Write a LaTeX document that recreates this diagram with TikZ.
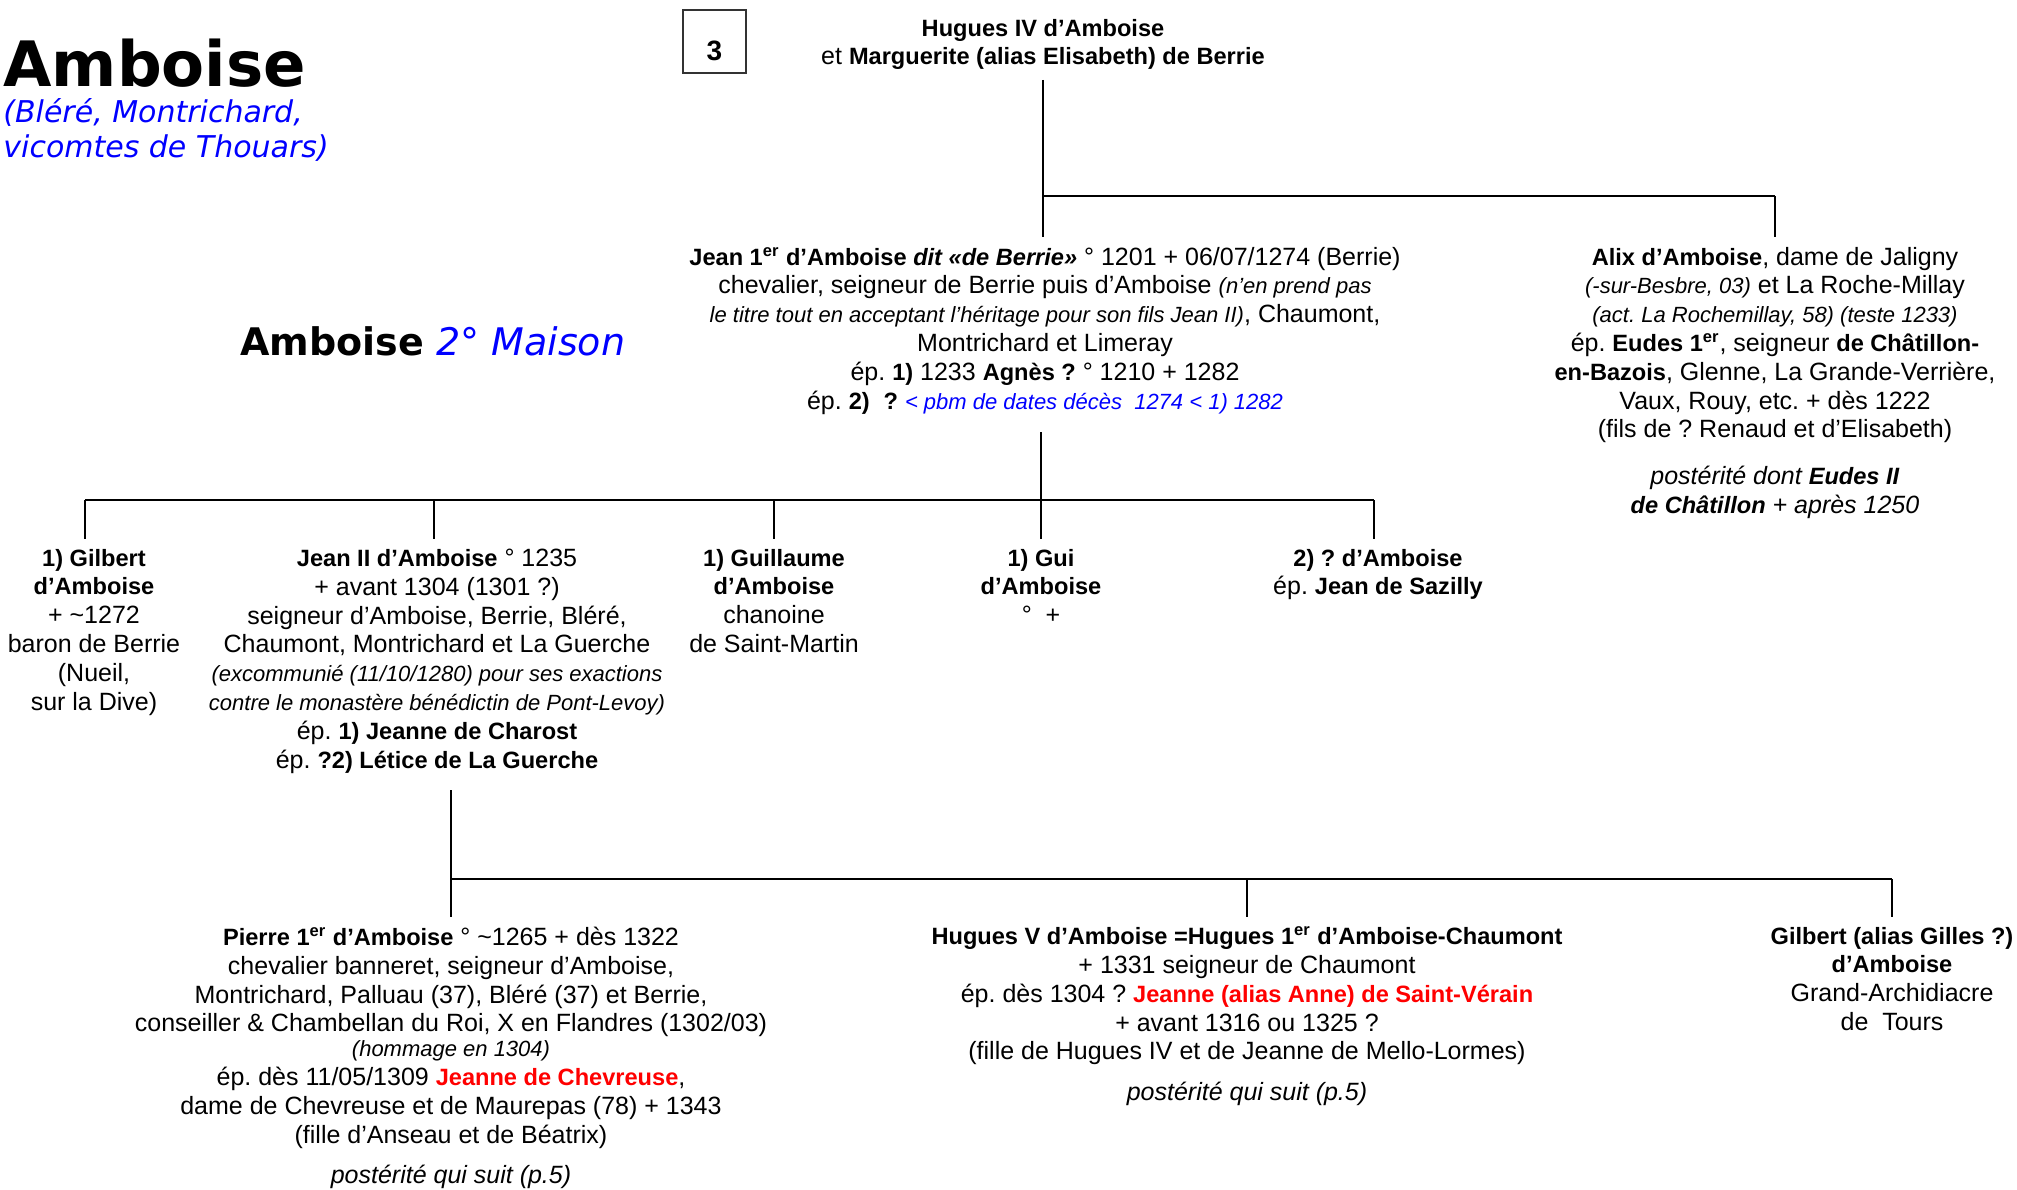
\documentclass[tikz,border=0pt]{standalone}
\usepackage{fontspec}
\setmainfont{Liberation Sans}
\newfontfamily\verdana{DejaVu Sans}
\usepackage{xcolor}
\usepackage{tikz}
\frenchspacing

% noms en gras, remarques en petit italique
\newcommand\nom[1]{{\fontsize{11.8}{14.4}\selectfont\bfseries #1}}
\newcommand\pit[1]{{\fontsize{11}{14.4}\selectfont\itshape #1}}

\begin{document}
\begin{tikzpicture}[x=0.5pt, y=-0.5pt,
  pers/.style={align=center, inner sep=0pt, outer ysep=5pt, anchor=north, font=\fontsize{12.5}{14.4}\selectfont},
  tige/.style={line width=0.8pt},
  barre/.style={line width=1.4pt}]
\useasboundingbox (0,0) rectangle (2017,1189);
% titres
\node[anchor=base west, inner sep=0pt, font=\verdana\bfseries\fontsize{31.3}{36}\selectfont] (titre) at (3,86) {Amboise};
\node[anchor=north west, inner sep=0pt, align=left, text=blue, font=\verdana\itshape\fontsize{15}{17.5}\selectfont] (lieux) at (3,98) {(Bléré, Montrichard,\\vicomtes de Thouars)};
\node[anchor=base west, inner sep=0pt, font=\verdana\fontsize{19}{22}\selectfont] (maison) at (240,355) {\textbf{Amboise} \textcolor{blue}{\itshape 2° Maison}};
\node[draw=black!80, line width=0.6pt, minimum width=31.5pt, minimum height=31.5pt, inner sep=0pt, text height=19pt, font=\fontsize{14}{16}\selectfont\bfseries] (num) at (714.5,41.5) {3};
% generation 1
\node[pers] (hug) at (1043,9) {\nom{Hugues IV d’Amboise}\\et \nom{Marguerite (alias Elisabeth) de Berrie}};
% generation 2
\node[pers] (jean1) at (1045,237) {\nom{Jean 1\textsuperscript{er} d’Amboise \textit{dit «de Berrie»}} ° 1201 + 06/07/1274 (Berrie)\\
  chevalier, seigneur de Berrie puis d’Amboise \pit{(n’en prend pas}\\
  \pit{le titre tout en acceptant l’héritage pour son fils Jean II)}, Chaumont,\\
  Montrichard et Limeray\\
  ép. \nom{1)} 1233 \nom{Agnès ?} ° 1210 + 1282\\
  ép. \nom{2)}\ \ \nom{?} \textcolor{blue}{\pit{< pbm de dates décès\ \ 1274 < 1) 1282}}};
\node[pers] (alix) at (1775,237) {\nom{Alix d’Amboise}, dame de Jaligny\\
  \pit{(-sur-Besbre, 03)} et La Roche-Millay\\
  \pit{(act. La Rochemillay, 58) (teste 1233)}\\
  ép. \nom{Eudes 1\textsuperscript{er}}, seigneur \nom{de Châtillon-}\\
  \nom{en-Bazois}, Glenne, La Grande-Verrière,\\
  Vaux, Rouy, etc. + dès 1222\\
  (fils de ? Renaud et d’Elisabeth)\\[9pt]
  \textit{postérité dont \nom{Eudes II}}\\
  \textit{\nom{de Châtillon} + après 1250}};
% generation 3
\node[pers] (gil) at (94,539) {\nom{1) Gilbert}\\\nom{d’Amboise}\\+ \textasciitilde1272\\baron de Berrie\\(Nueil,\\sur la Dive)};
\node[pers] (jean2) at (437,539) {\nom{Jean II d’Amboise} ° 1235\\
  + avant 1304 (1301 ?)\\
  seigneur d’Amboise, Berrie, Bléré,\\
  Chaumont, Montrichard et La Guerche\\
  \pit{(excommunié (11/10/1280) pour ses exactions}\\
  \pit{contre le monastère bénédictin de Pont-Levoy)}\\
  ép. \nom{1) Jeanne de Charost}\\
  ép. \nom{?2) Létice de La Guerche}};
\node[pers] (guil) at (774,539) {\nom{1) Guillaume}\\\nom{d’Amboise}\\chanoine\\de Saint-Martin};
\node[pers] (gui) at (1041,539) {\nom{1) Gui}\\\nom{d’Amboise}\\°\ \ +};
\node[pers] (saz) at (1378,539) {\nom{2) ? d’Amboise}\\ép. \nom{Jean de Sazilly}};
% generation 4
\node[pers] (pierre) at (451,917) {\nom{Pierre 1\textsuperscript{er} d’Amboise} ° \textasciitilde1265 + dès 1322\\
  chevalier banneret, seigneur d’Amboise,\\
  Montrichard, Palluau (37), Bléré (37) et Berrie,\\
  conseiller \& Chambellan du Roi, X en Flandres (1302/03)\\[-2pt]
  \pit{(hommage en 1304)}\\
  ép. dès 11/05/1309 \textcolor{red}{\nom{Jeanne de Chevreuse}},\\
  dame de Chevreuse et de Maurepas (78) + 1343\\
  (fille d’Anseau et de Béatrix)\\[6pt]
  \textit{postérité qui suit (p.5)}};
\node[pers] (hug5) at (1247,917) {\nom{Hugues V d’Amboise =Hugues 1\textsuperscript{er} d’Amboise-Chaumont}\\
  + 1331 seigneur de Chaumont\\
  ép. dès 1304 ? \textcolor{red}{\nom{Jeanne (alias Anne) de Saint-Vérain}}\\
  + avant 1316 ou 1325 ?\\
  (fille de Hugues IV et de Jeanne de Mello-Lormes)\\[6pt]
  \textit{postérité qui suit (p.5)}};
\node[pers] (gilles) at (1892,917) {\nom{Gilbert (alias Gilles ?)}\\\nom{d’Amboise}\\Grand-Archidiacre\\de\ \ Tours};
% traits
\coordinate (bus1) at (0,196);
\coordinate (bus2) at (0,500);
\coordinate (bus3) at (0,879);
\coordinate (gilc) at ([xshift=-4.5pt]gil.north);
\coordinate (j2c) at ([xshift=-1.5pt]jean2.north);
\coordinate (sazc) at ([xshift=-2pt]saz.north);
\draw[tige] (hug.south) -- (hug.south |- jean1.north);
\draw[barre] (hug.south |- bus1) -- (alix.north |- bus1);
\draw[tige] (alix.north |- bus1) -- (alix.north);
\draw[tige, shorten <=4pt] (gui.north |- jean1.south) -- (gui.north);
\draw[barre] (gilc |- bus2) -- (sazc |- bus2);
\draw[tige] (gilc |- bus2) -- (gilc); \draw[tige] (j2c |- bus2) -- (j2c);
\draw[tige] (guil.north |- bus2) -- (guil.north); \draw[tige] (sazc |- bus2) -- (sazc);
\draw[tige, shorten <=3.5pt] (pierre.north |- jean2.south) -- (pierre.north);
\draw[barre] (pierre.north |- bus3) -- (gilles.north |- bus3);
\draw[tige] (hug5.north |- bus3) -- (hug5.north);
\draw[tige] (gilles.north |- bus3) -- (gilles.north);
\end{tikzpicture}
\end{document}
